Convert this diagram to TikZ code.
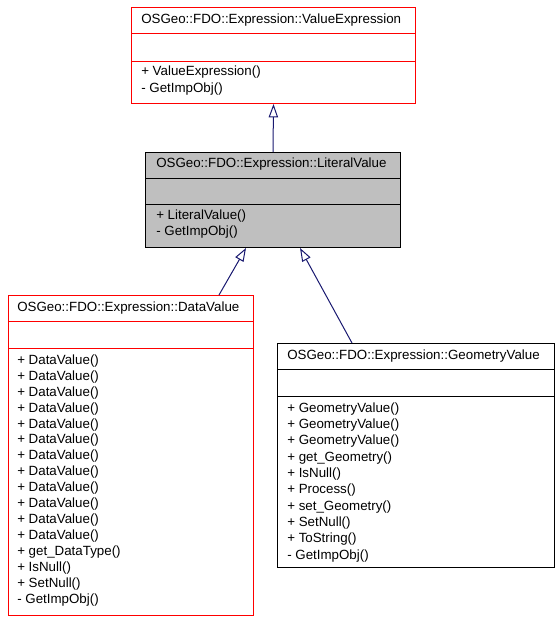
\documentclass[tikz,border=0pt]{standalone}
\usepackage{fontspec}
\setmainfont{Liberation Sans}
\usetikzlibrary{arrows.meta,calc}
\definecolor{edgeblue}{HTML}{191970}
\definecolor{litgray}{HTML}{BFBFBF}
\begin{document}
\begin{tikzpicture}[x=0.75pt,y=-0.75pt,
  classbox/.style={rectangle, line width=0.75pt, inner sep=0pt, anchor=north west},
  member/.style={anchor=west, inner sep=0pt, font=\fontsize{10}{12}\selectfont, text height=7pt, text depth=2pt},
  divider/.style={line width=0.75pt},
  inh/.style={edgeblue, line width=0.75pt, -{Triangle[open, length=10pt, width=7pt]}}]
\useasboundingbox (0,0) rectangle (560,621);

% ValueExpression
\node[classbox, draw=red, minimum width=284*0.75pt, minimum height=96*0.75pt] (ve) at (131,7) {};
\draw[divider, red] (131,33) -- (415,33);
\draw[divider, red] (131,61) -- (415,61);
\node[member] (vet) at (141,20) {OSGeo::FDO::Expression::ValueExpression};
\node[member] (vem1) at (141,72) {+ ValueExpression()};
\node[member] (vem2) at (141,89) {- GetImpObj()};

% LiteralValue
\node[classbox, draw=black, fill=litgray, minimum width=255*0.75pt, minimum height=95*0.75pt] (lv) at (145,152) {};
\draw[divider] (145,178) -- (400,178);
\draw[divider] (145,204) -- (400,204);
\node[member] (lvt) at (156,164) {OSGeo::FDO::Expression::LiteralValue};
\node[member] (lvm1) at (156,216) {+ LiteralValue()};
\node[member] (lvm2) at (156,232) {- GetImpObj()};

% DataValue
\node[classbox, draw=red, minimum width=245*0.75pt, minimum height=320*0.75pt] (dv) at (8,295) {};
\draw[divider, red] (8,321) -- (253,321);
\draw[divider, red] (8,348) -- (253,348);
\node[member] (dvt) at (17,308) {OSGeo::FDO::Expression::DataValue};
\foreach \i/\t in {0/+ DataValue(),1/+ DataValue(),2/+ DataValue(),3/+ DataValue(),
  4/+ DataValue(),5/+ DataValue(),6/+ DataValue(),7/+ DataValue(),8/+ DataValue(),
  9/+ DataValue(),10/+ DataValue(),11/+ DataValue(),12/+ get\_DataType(),
  13/+ IsNull(),14/+ SetNull(),15/- GetImpObj()}
  \node[member] (dvm\i) at (17,361+15.93*\i) {\t};

% GeometryValue
\node[classbox, draw=black, minimum width=277*0.75pt, minimum height=224*0.75pt] (gv) at (277,343) {};
\draw[divider] (277,369) -- (554,369);
\draw[divider] (277,396) -- (554,396);
\node[member] (gvt) at (287,356) {OSGeo::FDO::Expression::GeometryValue};
\foreach \i/\t in {0/+ GeometryValue(),1/+ GeometryValue(),2/+ GeometryValue(),
  3/+ get\_Geometry(),4/+ IsNull(),5/+ Process(),6/+ set\_Geometry(),
  7/+ SetNull(),8/+ ToString(),9/- GetImpObj()}
  \node[member] (gvm\i) at (287,409+16.33*\i) {\t};

% inheritance edges
\draw[inh] (lv.north) -- (ve.south);
\draw[inh] ($(dv.north west)+(211,0)$) -- ($(lv.south west)+(101,0)$);
\draw[inh] ($(gv.north west)+(75,0)$) -- ($(lv.south west)+(155,0)$);
\end{tikzpicture}
\end{document}
